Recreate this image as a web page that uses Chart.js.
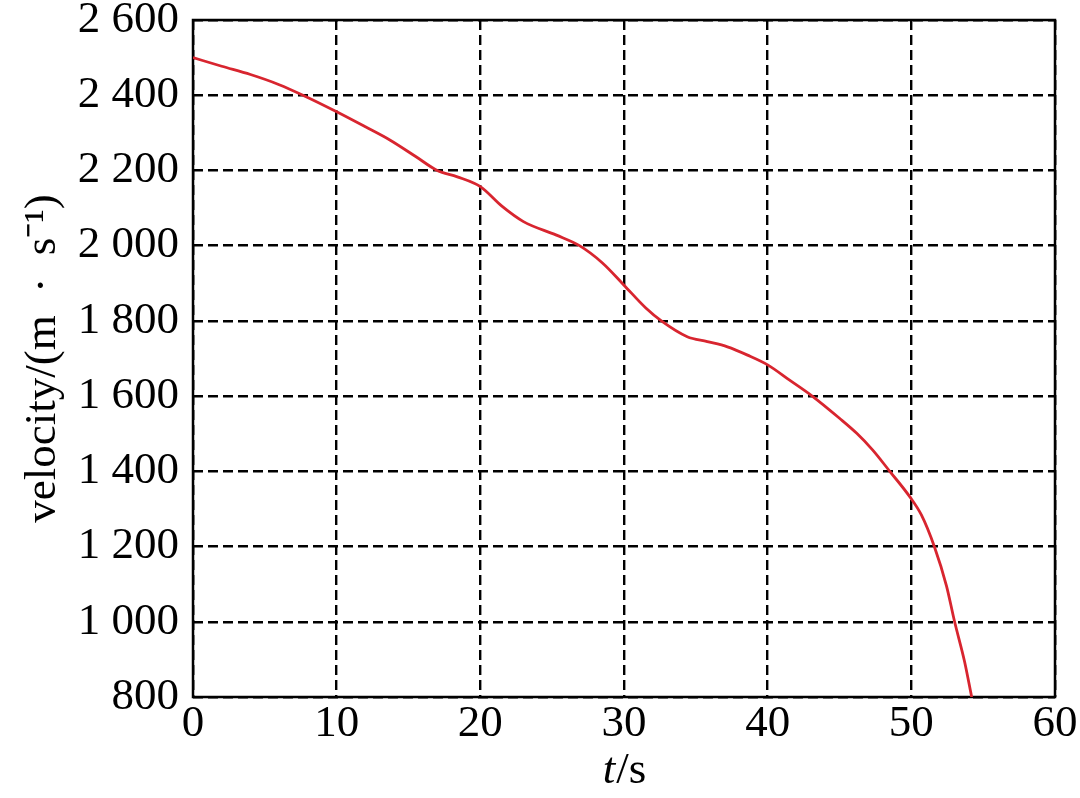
<!DOCTYPE html>
<html>
<head>
<meta charset="utf-8">
<script src="https://cdn.jsdelivr.net/npm/chart.js@4/dist/chart.umd.min.js"></script>
<style>
  body { margin: 0; background: #fff; }
  #wrap { width: 1080px; height: 798px; position: relative; }
</style>
</head>
<body>
<div id="wrap"><canvas id="velocityChart"></canvas></div>
<script>
// time (s) and velocity (m/s)
var times = [0, 2, 4, 6, 7.65, 10, 12, 13.7, 15.5, 17, 18.4, 20, 21.5, 23, 25.3, 26.9, 28.5, 30, 31.5, 32.6, 34.4, 35.8, 37.2, 38.6, 40, 41.5, 43.1, 45, 46.2, 47.3, 48.5, 49.9, 50.7, 51.6, 52.45, 53, 53.7, 54.2];
var velocity = [2500, 2477, 2455, 2428, 2400, 2356, 2316, 2281, 2237, 2200, 2183, 2157, 2105, 2064, 2028, 2000, 1954, 1895, 1835, 1800, 1758, 1745, 1731, 1709, 1683, 1643, 1600, 1541, 1501, 1457, 1400, 1332, 1284, 1200, 1095, 1002, 895, 800];

var xTicks = [0, 10, 20, 30, 40, 50, 60];
var yTicks = [800, 1000, 1200, 1400, 1600, 1800, 2000, 2200, 2400, 2600];

var FONT = '"Liberation Serif", "Times New Roman", serif';

function fmt(v) {
    // thousands separated by a space, as in the figure
    var s = String(v);
    return s.length > 3 ? s.slice(0, s.length - 3) + ' ' + s.slice(-3) : s;
}

var boxPlugin = {
    id: 'box',
    beforeDatasetsDraw: function (chart) {
        var a = chart.chartArea, ctx = chart.ctx;
        ctx.save();
        ctx.setLineDash([]);
        ctx.strokeStyle = '#000';
        ctx.lineWidth = 2.5;
        ctx.strokeRect(a.left, a.top, a.right - a.left, a.bottom - a.top);
        ctx.restore();
    },
    afterDraw: function (chart) {
        // x axis title with italic t
        var a = chart.chartArea, ctx = chart.ctx;
        var cx = (a.left + a.right) / 2, cy = 771;
        ctx.save();
        ctx.fillStyle = '#000';
        ctx.textBaseline = 'middle';
        ctx.font = 'italic 45px ' + FONT;
        var w1 = ctx.measureText('t').width;
        ctx.font = '45px ' + FONT;
        var w2 = ctx.measureText('/s').width;
        var x0 = cx - (w1 + w2) / 2;
        ctx.textAlign = 'left';
        ctx.font = 'italic 45px ' + FONT;
        ctx.fillText('t', x0, cy);
        ctx.font = '45px ' + FONT;
        ctx.fillText('/s', x0 + w1 + 1, cy);
        ctx.restore();
    }
};

var ctx = document.getElementById('velocityChart').getContext('2d');
var velocityChart = new Chart(ctx, {
    type: 'line',
    data: {
        datasets: [{
            label: 'velocity',
            data: times.map(function (t, i) { return { x: t, y: velocity[i] }; }),
            borderColor: '#d8252f',
            borderWidth: 2.8,
            pointRadius: 0,
            fill: false,
            cubicInterpolationMode: 'monotone'
        }]
    },
    options: {
        responsive: true,
        maintainAspectRatio: false,
        animation: false,
        layout: { padding: { top: 20, right: 25, left: 0, bottom: 0 } },
        plugins: {
            legend: { display: false },
            tooltip: { enabled: false }
        },
        scales: {
            x: {
                type: 'linear',
                min: 0,
                max: 60,
                afterBuildTicks: function (s) { s.ticks = xTicks.map(function (v) { return { value: v }; }); },
                afterFit: function (s) { s.height = 101; s.paddingLeft = 0; s.paddingRight = 0; },
                ticks: {
                    color: '#000',
                    font: { family: FONT, size: 45 },
                    padding: 0,
                    maxRotation: 0
                },
                grid: { color: '#000', lineWidth: 2.4, drawTicks: false },
                border: { display: false, dash: [10, 5] },
                title: { display: false, text: 't/s' }
            },
            y: {
                min: 800,
                max: 2600,
                afterBuildTicks: function (s) { s.ticks = yTicks.map(function (v) { return { value: v }; }); },
                afterFit: function (s) { s.width = 193; s.paddingTop = 0; s.paddingBottom = 0; },
                ticks: {
                    color: '#000',
                    font: { family: FONT, size: 45 },
                    padding: 14,
                    callback: function (v) { return fmt(v); }
                },
                grid: { color: '#000', lineWidth: 2.4, drawTicks: false },
                border: { display: false, dash: [10, 5] },
                title: {
                    display: true,
                    text: 'velocity/(m\u2002\u00b7\u2002s\u207b\u00b9)',
                    color: '#000',
                    font: { family: FONT, size: 45 },
                    padding: { top: 16, bottom: 0 }
                }
            }
        }
    },
    plugins: [boxPlugin]
});
</script>
</body>
</html>
